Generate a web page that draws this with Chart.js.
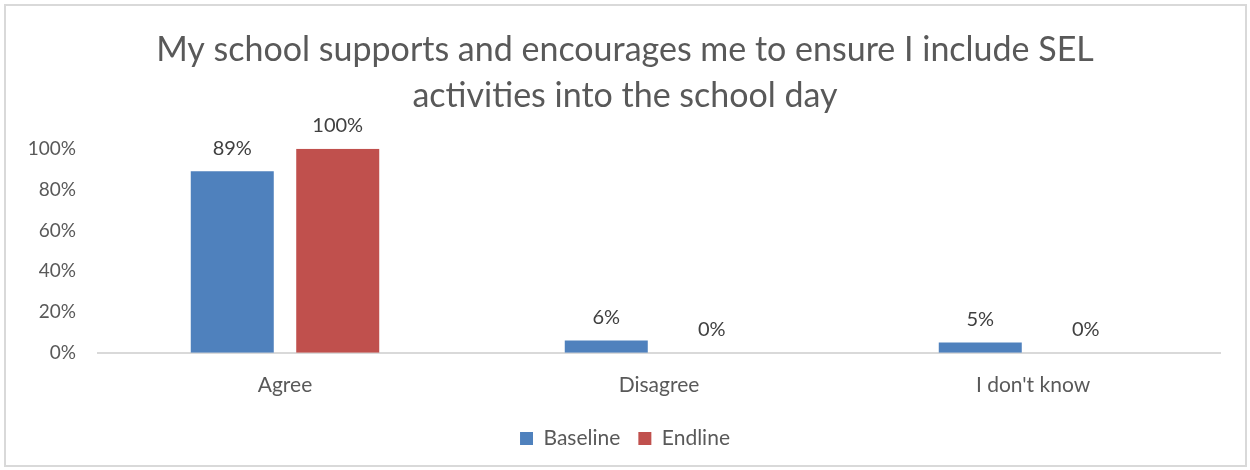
<!DOCTYPE html>
<html>
<head>
<meta charset="utf-8">
<script src="https://cdn.jsdelivr.net/npm/chart.js@4"></script>
<style>
  body { margin: 0; background: #fff; }
  #wrap { width: 1250px; height: 470px; }
</style>
</head>
<body>
<div id="wrap"><canvas id="surveyChart" width="1250" height="470"></canvas></div>
<script>
var categories = ["Agree", "Disagree", "I don't know"];
var baselineValues = [89, 6, 5];
var endlineValues = [100, 0, 0];
var yTicks = [0, 20, 40, 60, 80, 100];
var chartTitle = ["My school supports and encourages me to ensure I include SEL", "activities into the school day"];

var FONT = "Lato, 'Noto Sans', sans-serif";

// draws the light grey frame round the chart
const frameBorder = {
    id: "frameBorder",
    beforeDraw(chart) {
        const ctx = chart.ctx;
        ctx.save();
        ctx.fillStyle = "#ffffff";
        ctx.fillRect(0, 0, chart.width, chart.height);
        ctx.strokeStyle = "#d9d9d9";
        ctx.lineWidth = 2;
        ctx.strokeRect(5, 5, chart.width - 9, chart.height - 9);
        ctx.restore();
    }
};

// value labels above the bars
const valueLabels = {
    id: "valueLabels",
    afterDatasetsDraw(chart) {
        const ctx = chart.ctx;
        ctx.save();
        ctx.font = "20px " + FONT;
        ctx.fillStyle = "#404040";
        ctx.textAlign = "center";
        ctx.textBaseline = "middle";
        chart.data.datasets.forEach(function (ds, i) {
            chart.getDatasetMeta(i).data.forEach(function (bar, j) {
                ctx.fillText(ds.data[j] + "%", bar.x, bar.y - 23);
            });
        });
        ctx.restore();
    }
};

const ctx = document.getElementById("surveyChart").getContext("2d");
new Chart(ctx, {
    type: "bar",
    data: {
        labels: categories,
        datasets: [
            { label: "Baseline", data: baselineValues, backgroundColor: "#4F81BD" },
            { label: "Endline", data: endlineValues, backgroundColor: "#C0504D" }
        ]
    },
    plugins: [frameBorder, valueLabels],
    options: {
        responsive: false,
        animation: false,
        devicePixelRatio: 1,
        layout: { padding: { left: 0, right: 0, top: 0, bottom: 11 } },
        datasets: { bar: { categoryPercentage: 0.564, barPercentage: 0.787 } },
        plugins: {
            tooltip: { enabled: false },
            title: {
                display: true,
                text: chartTitle,
                color: "#595959",
                font: { family: FONT, size: 34, weight: "normal", lineHeight: 1.35 },
                padding: { top: 27, bottom: 30 }
            },
            legend: {
                position: "bottom",
                labels: {
                    color: "#595959",
                    font: { family: FONT, size: 21 },
                    boxWidth: 13,
                    boxHeight: 13,
                    padding: 18
                }
            }
        },
        scales: {
            x: {
                grid: { display: false },
                border: { display: true, color: "#d9d9d9", width: 2 },
                ticks: { color: "#595959", font: { family: FONT, size: 21 }, padding: 12 }
            },
            y: {
                min: 0,
                max: 100,
                afterFit: function (scale) { scale.width = 98; },
                afterBuildTicks: function (scale) {
                    scale.ticks = yTicks.map(function (v) { return { value: v }; });
                },
                grid: { display: false, drawTicks: false },
                border: { display: false },
                ticks: {
                    color: "#595959",
                    font: { family: FONT, size: 19 },
                    padding: 22,
                    callback: function (v) { return v + "%"; }
                }
            },
            // empty right-hand axis, only keeps a margin so title and legend stay centred on the page
            yRight: {
                position: "right",
                display: true,
                afterFit: function (scale) { scale.width = 30; },
                grid: { display: false, drawTicks: false },
                border: { display: false },
                ticks: { display: false }
            }
        }
    }
});
</script>
</body>
</html>
